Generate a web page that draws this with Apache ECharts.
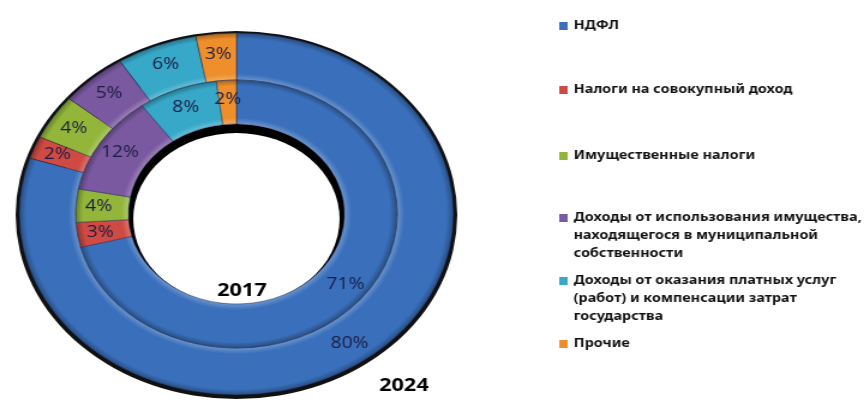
<!DOCTYPE html>
<html>
<head>
<meta charset="utf-8">
<script src="https://cdn.jsdelivr.net/npm/echarts@6/dist/echarts.min.js"></script>
<style>
  html, body { margin: 0; padding: 0; background: #fff; overflow: hidden; }
  /* исходная диаграмма растянута по горизонтали */
  #chart { width: 722px; height: 403px; transform: scaleX(1.2); transform-origin: 0 0; }
</style>
</head>
<body>
<div id="chart"></div>
<script>
const categories = [
  'НДФЛ',
  'Налоги на совокупный доход',
  'Имущественные налоги',
  'Доходы от использования имущества, находящегося в муниципальной собственности',
  'Доходы от оказания платных услуг (работ) и компенсации затрат государства',
  'Прочие'
]
const values2024 = [80, 2, 4, 5, 6, 3]
const values2017 = [71, 3, 4, 12, 8, 2]
const colors = ['#3a70bb', '#cf4a42', '#93b63a', '#7b59a0', '#38a8c8', '#ef8f2c']

// переносы строк в легенде как в оригинале
const legendText = {
  'Доходы от использования имущества, находящегося в муниципальной собственности':
    'Доходы от использования имущества,\nнаходящегося в муниципальной\nсобственности',
  'Доходы от оказания платных услуг (работ) и компенсации затрат государства':
    'Доходы от оказания платных услуг\n(работ) и компенсации затрат\nгосударства'
}
// верх первой строки каждого пункта легенды
const legendTops = [17, 81, 147, 209, 272, 335]

const CX = 197
const CY = 214

const chart = echarts.init(document.getElementById('chart'))

// смешать цвет с белым (t > 0) или чёрным (t < 0)
function mix(hex, t) {
  const n = parseInt(hex.slice(1), 16)
  const c = [(n >> 16) & 255, (n >> 8) & 255, n & 255].map((v) =>
    Math.round(t > 0 ? v + (255 - v) * t : v * (1 + t))
  )
  return 'rgb(' + c.join(',') + ')'
}

// объёмная заливка кольца
function bevel(hex, r0, r1) {
  const R = r1 + 1
  return new echarts.graphic.RadialGradient(CX, CY, R, [
    { offset: r0 / R, color: mix(hex, 0.25) },
    { offset: (r0 + 6) / R, color: hex },
    { offset: (r1 - 6) / R, color: hex },
    { offset: r1 / R, color: mix(hex, -0.3) }
  ], true)
}

const legendBase = {
  left: 466,
  padding: 0,
  itemWidth: 7,
  itemHeight: 8,
  itemGap: 0,
  icon: 'rect',
  selectedMode: false,
  textStyle: {
    fontFamily: 'Noto Sans',
    fontWeight: 'bold',
    fontSize: 12,
    color: '#111',
    lineHeight: 18
  }
}

const legends = []
categories.forEach((name, i) => {
  const icon = { color: colors[i], borderWidth: 0 }
  if (legendText[name]) {
    // текст без значка + значок у первой строки
    legends.push(Object.assign({}, legendBase, {
      data: [{ name: name, icon: 'none' }],
      top: legendTops[i],
      formatter: (n) => legendText[n]
    }))
    legends.push(Object.assign({}, legendBase, {
      data: [{ name: name, itemStyle: icon }],
      top: legendTops[i] + 5,
      formatter: () => ''
    }))
  } else {
    legends.push(Object.assign({}, legendBase, {
      data: [{ name: name, itemStyle: icon }],
      top: legendTops[i]
    }))
  }
})

const pieLabel = {
  show: true,
  position: 'inside',
  formatter: '{c}%',
  fontFamily: 'Open Sans',
  fontSize: 16,
  color: '#1c1c44'
}

function ring(name, values, r0, r1) {
  return {
    name: name,
    type: 'pie',
    radius: [r0, r1],
    center: [CX, CY],
    startAngle: 90,
    clockwise: true,
    avoidLabelOverlap: false,
    label: pieLabel,
    labelLine: { show: false },
    emphasis: { disabled: true },
    itemStyle: { borderColor: 'rgba(20,30,70,0.45)', borderWidth: 1 },
    data: categories.map((n, i) => ({
      name: n,
      value: values[i],
      itemStyle: { color: bevel(colors[i], r0, r1) }
    }))
  }
}

function disc(r0, r1, cy, color) {
  return {
    type: 'pie', silent: true, radius: [r0, r1], center: [CX, cy],
    label: { show: false }, labelLine: { show: false },
    itemStyle: { color: color }, data: [{ value: 1, name: 'bg' }]
  }
}

const option = {
  animation: false,
  color: colors,
  legend: legends,
  graphic: [
    {
      type: 'text', left: 181, top: 282, z: 100,
      style: { text: '2017', font: 'bold 18px "Noto Sans"', fill: '#000' }
    },
    {
      type: 'text', left: 316, top: 377,
      style: { text: '2024', font: 'bold 18px "Noto Sans"', fill: '#000' }
    }
  ],
  series: [
    // тени по краю и в отверстии
    disc(150, 184, CY + 1, '#111'),
    disc(0, 91, CY + 1, '#000'),
    disc(0, 86, CY + 5, '#fff'),
    ring('2024', values2024, 134, 181),
    ring('2017', values2017, 90, 134)
  ]
}

chart.setOption(option)
</script>
</body>
</html>
